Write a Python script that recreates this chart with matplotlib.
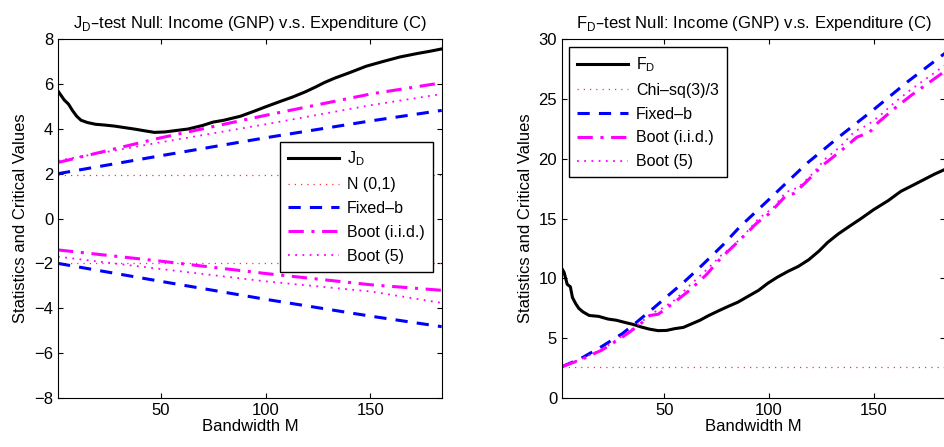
"""
Bandwidth plots of the J_D and F_D statistics with their critical values.
"""
import matplotlib.pyplot as plt

plt.rcParams["font.family"] = ["Liberation Sans", "DejaVu Sans"]
plt.rcParams["font.size"] = 12
plt.rcParams["xtick.direction"] = "in"
plt.rcParams["ytick.direction"] = "in"
plt.rcParams["xtick.top"] = True
plt.rcParams["ytick.right"] = True

# ---- left panel: J_D test ----
JD_M = [1, 2, 4, 6, 8, 10, 12, 15, 19, 23, 28, 33, 38, 43, 47, 52, 57, 63, 70,
        75, 80, 88, 95, 100, 107, 113, 119, 124, 128, 133, 140, 148, 156, 164,
        172, 178, 184]
JD = [5.68, 5.55, 5.28, 5.1, 4.8, 4.55, 4.38, 4.28, 4.2, 4.17, 4.12, 4.05,
      3.98, 3.9, 3.84, 3.86, 3.92, 3.99, 4.15, 4.3, 4.38, 4.56, 4.8, 4.98,
      5.22, 5.42, 5.65, 5.87, 6.06, 6.26, 6.5, 6.79, 7.0, 7.2, 7.35, 7.45,
      7.56]
CRIT_M = [1, 50, 100, 150, 184]
N01 = 1.96
FIXB_UP = [2.0, 2.8, 3.6, 4.35, 4.82]
FIXB_LO = [-2.0, -2.8, -3.6, -4.35, -4.82]
IID_UP = [2.5, 3.6, 4.6, 5.55, 6.05]
IID_LO = [-1.4, -1.9, -2.45, -2.95, -3.2]
B5_UP = [2.58, 3.4, 4.2, 5.05, 5.55]
B5_LO = [-1.7, -2.25, -2.8, -3.25, -3.76]

# ---- right panel: F_D test ----
FD_M = [1, 2, 3.5, 5, 6, 7.5, 9, 11, 14, 18.6, 23, 27, 31, 35, 39, 43, 47, 51,
        55, 59, 63, 67, 71, 76, 80.5, 85, 90, 95, 99.5, 104, 109, 114, 119,
        124, 128, 133, 138, 144, 150, 157, 163, 169, 174, 179, 184]
FD = [10.8, 10.5, 9.5, 9.3, 8.4, 7.9, 7.5, 7.2, 6.9, 6.82, 6.6, 6.5, 6.32,
      6.15, 5.93, 5.75, 5.63, 5.65, 5.8, 5.9, 6.2, 6.5, 6.88, 7.3, 7.66, 8.0,
      8.5, 9.0, 9.6, 10.1, 10.58, 11.0, 11.56, 12.3, 13.0, 13.7, 14.3, 15.0,
      15.74, 16.5, 17.27, 17.8, 18.25, 18.7, 19.1]
CHI = 2.605
FB_M = [1, 10, 20, 30, 36, 44, 52, 60, 68, 78, 86, 100, 118, 134, 150, 166, 184]
FB = [2.62, 3.3, 4.3, 5.4, 6.24, 7.4, 8.6, 9.8, 11.1, 12.8, 14.3, 16.6, 19.6,
      21.9, 24.1, 26.4, 28.8]
IID_M = [1, 10, 20, 30, 38, 43, 47, 54, 62, 70, 76, 80, 86, 94, 100, 108,
         112, 118, 126, 134, 142, 148, 152, 160, 168, 176, 184]
IID = [2.62, 3.2, 4.0, 5.1, 6.1, 6.9, 7.0, 7.9, 9.0, 10.3, 11.5, 12.2, 13.2,
       14.6, 15.4, 16.9, 17.1, 18.1, 19.5, 20.6, 21.8, 22.2, 23.0, 24.2, 25.3,
       26.3, 27.3]
B5_M = [1, 10, 20, 30, 38, 44, 48, 55, 62, 70, 77, 82, 88, 95, 102, 108,
        114, 120, 127, 134, 141, 147, 153, 160, 168, 176, 184]
B5 = [2.62, 3.25, 4.05, 5.2, 6.2, 7.1, 7.4, 8.2, 9.4, 10.7, 11.9, 12.6, 13.6,
      15.0, 15.9, 17.2, 17.6, 18.6, 20.0, 21.0, 22.3, 22.8, 23.6, 24.7, 25.8,
      26.8, 27.8]

fig = plt.figure(figsize=(9.45, 4.47), dpi=100)
ax1 = fig.add_axes([0.0614, 0.1096, 0.406, 0.803])
ax2 = fig.add_axes([0.5947, 0.1096, 0.405, 0.803])

MAG = "#ff00ff"
RED = "#ff3030"
IID_LS = (0, (5, 2.5, 1, 2.5))
FIXB_LS = (0, (4, 3))
DOT_LS = (0, (1, 3))


def style_legend(ax, **kw):
    leg = ax.legend(handlelength=3.2, handletextpad=0.5, fancybox=False,
                    edgecolor="black", framealpha=1, borderpad=0.5,
                    borderaxespad=0, labelspacing=0.55, fontsize=11.5, **kw)
    leg.get_frame().set_linewidth(1.0)


# left
ax1.plot(JD_M, JD, color="black", lw=2.2, label=r"J$_\mathregular{D}$")
ax1.plot([1, 184], [N01, N01], color=RED, lw=0.9, ls=(0, (1, 4)),
         label="N (0,1)")
ax1.plot([1, 184], [-N01, -N01], color=RED, lw=0.9, ls=(0, (1, 4)))
ax1.plot(CRIT_M, FIXB_UP, color="blue", lw=2.2, ls=FIXB_LS,
         label="Fixed\u2013b")
ax1.plot(CRIT_M, FIXB_LO, color="blue", lw=2.2, ls=FIXB_LS)
ax1.plot(CRIT_M, IID_UP, color=MAG, lw=2.2, ls=IID_LS, label="Boot (i.i.d.)")
ax1.plot(CRIT_M, IID_LO, color=MAG, lw=2.2, ls=IID_LS)
ax1.plot(CRIT_M, B5_UP, color=MAG, lw=1.3, ls=DOT_LS, label="Boot (5)")
ax1.plot(CRIT_M, B5_LO, color=MAG, lw=1.3, ls=DOT_LS)
ax1.set_xlim(1, 184)
ax1.set_ylim(-8, 8)
ax1.set_xticks([50, 100, 150])
ax1.set_yticks(range(-8, 9, 2))
ax1.set_yticklabels([str(v).replace("-", "\u2212") for v in range(-8, 9, 2)])
ax1.set_xlabel("Bandwidth M", labelpad=1)
ax1.set_ylabel("Statistics and Critical Values")
ax1.set_title(r"J$_\mathregular{D}$" + "\u2013test Null: Income (GNP) v.s. "
              "Expenditure (C)", fontsize=12, pad=8)
style_legend(ax1, loc="upper right", bbox_to_anchor=(0.977, 0.714))

# right
ax2.plot(FD_M, FD, color="black", lw=2.2, label=r"F$_\mathregular{D}$")
ax2.plot([1, 184], [CHI, CHI], color=RED, lw=0.9, ls=(0, (1, 4)),
         label="Chi\u2013sq(3)/3")
ax2.plot(FB_M, FB, color="blue", lw=2.2, ls=FIXB_LS, label="Fixed\u2013b")
ax2.plot(IID_M, IID, color=MAG, lw=2.2, ls=IID_LS, label="Boot (i.i.d.)")
ax2.plot(B5_M, B5, color=MAG, lw=1.3, ls=DOT_LS, label="Boot (5)")
ax2.set_xlim(1, 184)
ax2.set_ylim(0, 30)
ax2.set_xticks([50, 100, 150])
ax2.set_yticks(range(0, 31, 5))
ax2.set_xlabel("Bandwidth M", labelpad=1)
ax2.set_ylabel("Statistics and Critical Values")
ax2.set_title(r"F$_\mathregular{D}$" + "\u2013test Null: Income (GNP) v.s. "
              "Expenditure (C)", fontsize=12, pad=8)
style_legend(ax2, loc="upper left", bbox_to_anchor=(0.018, 0.977))

fig.savefig("out.png", dpi=100)
